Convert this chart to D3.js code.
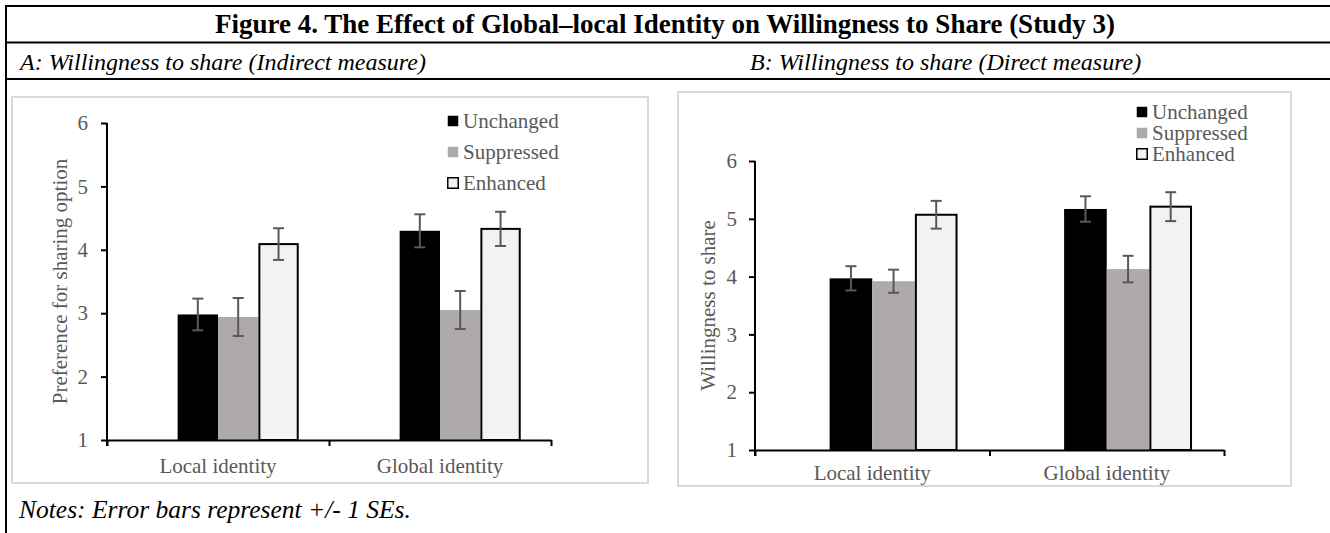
<!DOCTYPE html>
<html>
<head>
<meta charset="utf-8">
<script src="https://cdn.jsdelivr.net/npm/d3@7"></script>
<style>
  body { margin: 0; background: #fff; }
  svg { display: block; }
</style>
</head>
<body>
<svg id="fig" width="1330" height="533"></svg>
<script>
// ---- data ----
const categories = ["Local identity", "Global identity"];
const conditions = ["Unchanged", "Suppressed", "Enhanced"];
const yTicks = [1, 2, 3, 4, 5, 6];

// Panel A: preference for the sharing option (indirect measure), rows = categories
const indirectMeans = [[2.98, 2.94, 4.09], [4.30, 3.05, 4.33]];
const indirectSE    = [[0.25, 0.30, 0.25], [0.26, 0.30, 0.27]];

// Panel B: willingness to share (direct measure)
const directMeans = [[3.97, 3.92, 5.07], [5.17, 4.13, 5.21]];
const directSE    = [[0.21, 0.20, 0.24], [0.22, 0.23, 0.25]];

const figureTitle = "Figure 4. The Effect of Global\u2013local Identity on Willingness to Share (Study 3)";
const subtitleA = "A: Willingness to share (Indirect measure)";
const subtitleB = "B: Willingness to share (Direct measure)";
const yTitleA = "Preference for sharing option";
const yTitleB = "Willingness to share";
const noteText = "Notes: Error bars represent +/- 1 SEs.";

// ---- styles ----
const SERIF = "'Liberation Serif', 'Times New Roman', Times, serif";
const TEXT_GRAY = "#595959";
const fills = { Unchanged: "#000000", Suppressed: "#AEAAAA", Enhanced: "#F2F2F2" };
const strokes = { Unchanged: "none", Suppressed: "none", Enhanced: "#000000" };

const svg = d3.select("#fig");

// ---- table frame ----
const frame = svg.append("g").attr("stroke", "#000").attr("stroke-width", 2);
frame.append("line").attr("x1", 6).attr("x2", 1330).attr("y1", 6).attr("y2", 6);
frame.append("line").attr("x1", 6).attr("x2", 1330).attr("y1", 42.5).attr("y2", 42.5);
frame.append("line").attr("x1", 6).attr("x2", 1330).attr("y1", 79).attr("y2", 79);
frame.append("line").attr("x1", 6).attr("x2", 6).attr("y1", 5).attr("y2", 533);

svg.append("text")
  .attr("x", 665).attr("y", 33)
  .attr("text-anchor", "middle")
  .style("font-family", SERIF).style("font-weight", "bold").style("font-size", "27px")
  .text(figureTitle);

svg.append("text")
  .attr("x", 20).attr("y", 70)
  .style("font-family", SERIF).style("font-style", "italic").style("font-size", "24px")
  .text(subtitleA);

svg.append("text")
  .attr("x", 750).attr("y", 70)
  .style("font-family", SERIF).style("font-style", "italic").style("font-size", "24px")
  .text(subtitleB);

svg.append("text")
  .attr("x", 19).attr("y", 518)
  .style("font-family", SERIF).style("font-style", "italic").style("font-size", "25.5px")
  .text(noteText);

// ---- one bar panel ----
function drawPanel(cfg) {
  const g = svg.append("g");

  g.append("rect")
    .attr("x", cfg.box[0]).attr("y", cfg.box[1])
    .attr("width", cfg.box[2]).attr("height", cfg.box[3])
    .attr("fill", "#fff").attr("stroke", "#D9D9D9").attr("stroke-width", 2);

  const y = d3.scaleLinear().domain([1, 6]).range([cfg.bottom, cfg.top]);
  const x0 = d3.scaleBand().domain(categories).range([cfg.left, cfg.right]).padding(0);
  const slot = x0.bandwidth() / 5.5;
  const x1 = d3.scaleBand().domain(conditions).range([1.75 * slot, 4.75 * slot]).padding(0);
  const xEdge = d3.scaleLinear().domain([0, categories.length]).range([cfg.left, cfg.right]);

  const rows = categories.flatMap((c, i) =>
    conditions.map((k, j) => ({ cat: c, cond: k, mean: cfg.means[i][j], se: cfg.se[i][j] })));

  // bars
  g.append("g").selectAll("rect").data(rows).join("rect")
    .attr("x", d => x0(d.cat) + x1(d.cond) + (d.cond === "Enhanced" ? 1 : 0))
    .attr("y", d => y(d.mean))
    .attr("width", d => x1.bandwidth() - (d.cond === "Enhanced" ? 2 : 0))
    .attr("height", d => y(1) - y(d.mean))
    .attr("fill", d => fills[d.cond])
    .attr("stroke", d => strokes[d.cond])
    .attr("stroke-width", 2);

  // error bars (+/- 1 SE)
  const eb = g.append("g").attr("stroke", TEXT_GRAY).attr("stroke-width", 2).attr("fill", "none");
  const cx = d => x0(d.cat) + x1(d.cond) + x1.bandwidth() / 2;
  eb.selectAll("line.v").data(rows).join("line").attr("class", "v")
    .attr("x1", cx).attr("x2", cx)
    .attr("y1", d => y(d.mean - d.se)).attr("y2", d => y(d.mean + d.se));
  eb.selectAll("line.t").data(rows).join("line").attr("class", "t")
    .attr("x1", d => cx(d) - 5.5).attr("x2", d => cx(d) + 5.5)
    .attr("y1", d => y(d.mean + d.se)).attr("y2", d => y(d.mean + d.se));
  eb.selectAll("line.b").data(rows).join("line").attr("class", "b")
    .attr("x1", d => cx(d) - 5.5).attr("x2", d => cx(d) + 5.5)
    .attr("y1", d => y(d.mean - d.se)).attr("y2", d => y(d.mean - d.se));

  // y axis
  const yAxis = g.append("g")
    .attr("transform", `translate(${cfg.left},0)`)
    .call(d3.axisLeft(y).tickValues(yTicks).tickFormat(d3.format("d"))
      .tickSize(6).tickSizeOuter(0).tickPadding(cfg.yPad));
  yAxis.select(".domain").attr("stroke", "#000").attr("stroke-width", 2)
    .attr("d", `M0,${cfg.top}V${cfg.bottom + 6}`);
  yAxis.selectAll(".tick line").attr("stroke", "#000").attr("stroke-width", 2);
  yAxis.selectAll(".tick text")
    .style("font-family", SERIF).style("font-size", "21px").attr("fill", TEXT_GRAY);

  // x axis: boundary ticks
  const xAxis = g.append("g")
    .attr("transform", `translate(0,${cfg.bottom})`)
    .call(d3.axisBottom(xEdge).tickValues(d3.range(categories.length + 1))
      .tickFormat("").tickSize(6).tickSizeOuter(0));
  xAxis.select(".domain").attr("stroke", "#000").attr("stroke-width", 2);
  xAxis.selectAll(".tick line").attr("stroke", "#000").attr("stroke-width", 2);

  // x axis: category labels
  const xLab = g.append("g")
    .attr("transform", `translate(0,${cfg.bottom})`)
    .call(d3.axisBottom(x0).tickSize(0).tickPadding(cfg.xPad));
  xLab.select(".domain").remove();
  xLab.selectAll(".tick text")
    .style("font-family", SERIF).style("font-size", "21px").attr("fill", TEXT_GRAY);

  // y axis title
  g.append("text")
    .attr("transform", `translate(${cfg.yTitleX},${(cfg.top + cfg.bottom) / 2}) rotate(-90)`)
    .attr("text-anchor", "middle").attr("dominant-baseline", "central")
    .style("font-family", SERIF).style("font-size", "21px").attr("fill", TEXT_GRAY)
    .text(cfg.yTitle);

  // legend
  const lg = g.append("g").attr("transform", `translate(${cfg.legend[0]},${cfg.legend[1]})`);
  const item = lg.selectAll("g").data(conditions).join("g")
    .attr("transform", (d, i) => `translate(0,${i * cfg.legend[2]})`);
  item.append("rect")
    .attr("x", 0.75).attr("y", -5.25).attr("width", 10.5).attr("height", 10.5)
    .attr("fill", d => fills[d])
    .attr("stroke", d => d === "Enhanced" ? "#000" : "none").attr("stroke-width", 1.5);
  item.append("text")
    .attr("x", 16).attr("y", 0).attr("dominant-baseline", "central")
    .style("font-family", SERIF).style("font-size", "21px").attr("fill", TEXT_GRAY)
    .text(d => d);
}

drawPanel({
  box: [12, 97, 636, 386],
  left: 107, right: 551, top: 123, bottom: 440,
  means: indirectMeans, se: indirectSE,
  yTitle: yTitleA, yTitleX: 60, yPad: 13, xPad: 18,
  legend: [447, 121, 31]
});

drawPanel({
  box: [678, 92, 613, 394],
  left: 755, right: 1224, top: 161, bottom: 450,
  means: directMeans, se: directSE,
  yTitle: yTitleB, yTitleX: 708, yPad: 12, xPad: 15,
  legend: [1136, 112, 21]
});
</script>
</body>
</html>
